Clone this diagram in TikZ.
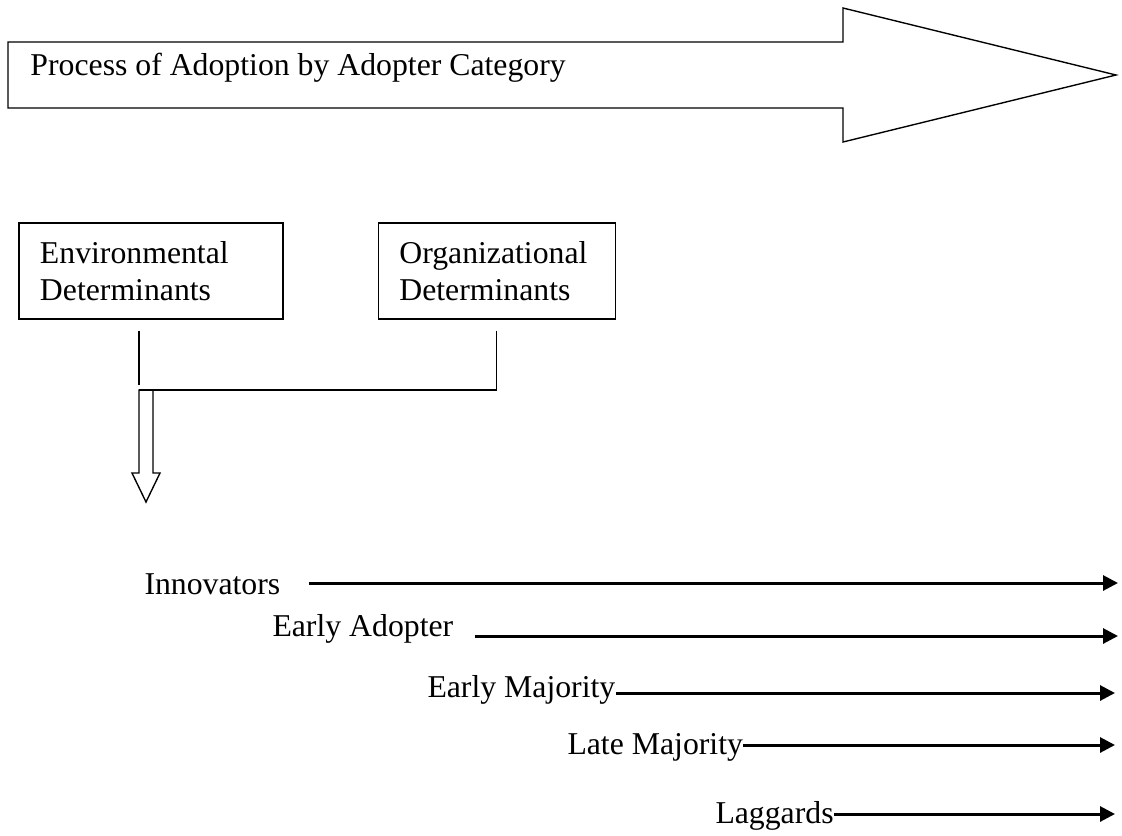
\documentclass[tikz,border=0pt]{standalone}
\usepackage{fontspec}
\setmainfont{Liberation Serif}
\usetikzlibrary{arrows.meta,calc,positioning}
\tikzset{
  >={Triangle[length=6pt,width=6pt]}
}

\begin{document}
\begin{tikzpicture}[x=0.4pt,y=-0.4pt,font=\fontsize{12.7}{14.8}\selectfont]

            \useasboundingbox (0,0) rectangle (1122,835);

            % DEF STYLES
            \tikzstyle{outlinestyle} = [draw=black, line width=0.55pt, line join=miter]
            \tikzstyle{boxstyle} = [draw, line width=0.55pt, rectangle, inner xsep=8.4pt, inner ysep=0pt, minimum height=38.4pt, align=left]
            \tikzstyle{linkstyle} = [line width=0.45pt]
            \tikzstyle{catstyle} = [anchor=base west, inner sep=0pt]
            \tikzstyle{catarrowstyle} = [->, line width=1.2pt]

            % BIG ARROW
            \draw[outlinestyle] (8,42) -- (843,42) -- (843,8) -- (1116,75) -- (843,142) -- (843,108) -- (8,108) -- cycle;
            \node[catstyle] (title) at (30,75) {Process of Adoption by Adopter Category};

            % DETERMINANTS
            \node[boxstyle, text width=88.8pt] (envBox) at (151,271) {Environmental\\Determinants};
            \node[boxstyle, text width=78pt, right=37.6pt of envBox] (orgBox) {Organizational\\Determinants};

            % JOIN
            \coordinate (join) at (139,390);
            \draw[linkstyle] ($(envBox.south -| join)+(0,11)$) -- ($(join)+(0,-5)$);
            \draw[linkstyle] ($(orgBox.south)+(0,11)$) -- (orgBox.south |- join) -- (join);

            % HOLLOW ARROW
            \draw[outlinestyle] (join) -- ++(14,0) -- ++(0,83) -- ++(7,0) -- ++(-14,29) -- ++(-14,-29) -- ++(7,0) -- cycle;

            % CATEGORIES
            \foreach \i/\txt/\x/\bl in {1/Innovators/144/594,2/Early Adopter/272/636,3/Early Majority/427/697,4/Late Majority/567/754,5/Laggards/715/823} {
              \node[catstyle] (cat\i) at (\x,\bl) {\txt};
            }

            % DEF COORDINATES
            \foreach \i/\ex/\ly in {1/1118/583,2/1118/636,3/1115/693,4/1115/745,5/1115/814} {
              \coordinate (end\i) at (\ex,\ly);
            }

            % ARROWS
            \foreach \i/\g in {1/28,2/21,3/0,4/0,5/0} {
              \draw[catarrowstyle] ($(cat\i.east |- end\i)+(\g,0)$) -- (end\i);
            }

\end{tikzpicture}
\end{document}
